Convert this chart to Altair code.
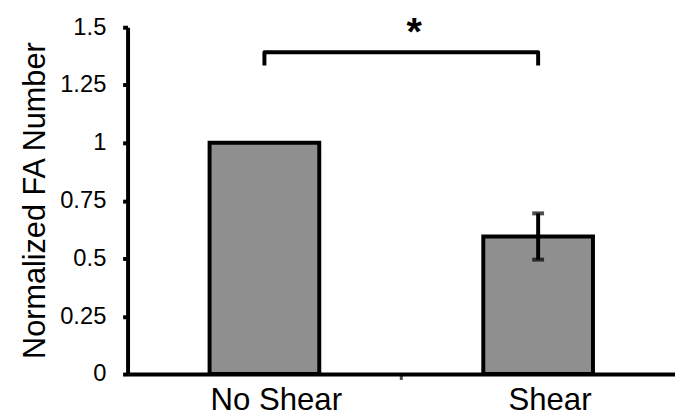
import altair as alt
import pandas as pd

# ---- data ----
categories = ["No Shear", "Shear"]
means = [1.0, 0.595]
errors = [0.0, 0.10]
tick_values = [0, 0.25, 0.5, 0.75, 1.0, 1.25, 1.5]
y_title = "Normalized FA Number"
bracket_cats = ["No Shear", "No Shear", "Shear", "Shear"]
bracket_levels = [1.335, 1.392, 1.392, 1.335]
star_cat = ["Shear"]
star_level = [1.425]
star_text = ["*"]
divider_cat = ["Shear"]

FONT = "Liberation Sans"

df = pd.DataFrame({"cat": categories, "val": means, "err": errors})
df["lo"] = df["val"] - df["err"]
df["hi"] = df["val"] + df["err"]
err_df = df[df["err"] > 0]

br_df = pd.DataFrame({"cat": bracket_cats, "y": bracket_levels, "o": list(range(len(bracket_cats)))})
star_df = pd.DataFrame({"cat": star_cat, "y": star_level, "t": star_text})
div_df = pd.DataFrame({"cat": divider_cat})

x_scale = alt.Scale(domain=categories, paddingInner=0, paddingOuter=0)
y_scale = alt.Scale(domain=[0, 1.5], nice=False, zero=True)

x_axis = alt.Axis(
    title=None, labelAngle=0, ticks=False, grid=False,
    labelFont=FONT, labelFontSize=31.5, labelColor="black",
    labelBaseline="alphabetic", labelPadding=36, labelOffset=12,
    domainColor="black", domainWidth=4,
)
y_axis = alt.Axis(
    title=y_title, values=tick_values, labelExpr="datum.value + ''", grid=False,
    labelFont=FONT, labelFontSize=24, labelColor="black", labelPadding=17,
    tickColor="black", tickWidth=4, tickSize=5,
    domainColor="black", domainWidth=4,
    titleFont=FONT, titleFontSize=31, titleFontWeight="normal", titleColor="black",
    titleX=-84, titleY=175, titleAngle=-90, titleAlign="center", titleBaseline="alphabetic",
)


def xenc(**kw):
    return alt.X("cat:N", sort=categories, scale=x_scale, axis=x_axis, **kw)


bars = alt.Chart(df).mark_bar(
    size=111, color="#8f8f8f", stroke="black", strokeWidth=4
).encode(
    x=xenc(),
    y=alt.Y("val:Q", scale=y_scale, axis=y_axis),
)

err_rule = alt.Chart(err_df).mark_rule(color="black", strokeWidth=4).encode(
    x=xenc(),
    y=alt.Y("lo:Q", scale=y_scale, axis=y_axis),
    y2="hi:Q",
)

cap_lo = alt.Chart(err_df).mark_tick(orient="horizontal", size=12, thickness=4, color="black").encode(
    x=xenc(), y=alt.Y("lo:Q", scale=y_scale, axis=y_axis)
)
cap_hi = alt.Chart(err_df).mark_tick(orient="horizontal", size=12, thickness=4, color="black").encode(
    x=xenc(), y=alt.Y("hi:Q", scale=y_scale, axis=y_axis)
)

bracket = alt.Chart(br_df).mark_line(
    color="black", strokeWidth=4, strokeJoin="round", strokeCap="butt"
).encode(
    x=xenc(),
    y=alt.Y("y:Q", scale=y_scale, axis=y_axis),
    order="o:Q",
)

star = alt.Chart(star_df).mark_text(
    font=FONT, fontSize=40, fontWeight="bold", color="black",
    align="center", baseline="alphabetic", dx=13,
).encode(
    x=xenc(bandPosition=0),
    y=alt.Y("y:Q", scale=y_scale, axis=y_axis),
    text="t:N",
)

divider = alt.Chart(div_df).mark_tick(
    orient="vertical", size=6, thickness=3, color="black", yOffset=3
).encode(
    x=xenc(bandPosition=0),
    y=alt.datum(0, scale=y_scale, axis=y_axis),
)

chart = alt.layer(bars, err_rule, cap_lo, cap_hi, bracket, star, divider).properties(
    width=554,
    height=351,
    autosize=alt.AutoSizeParams(type="none"),
    padding={"left": 121, "top": 17, "right": 0, "bottom": 43},
    background="white",
).configure_view(stroke=None)

chart.save("out.html", embed_options={"renderer": "svg", "actions": False})
